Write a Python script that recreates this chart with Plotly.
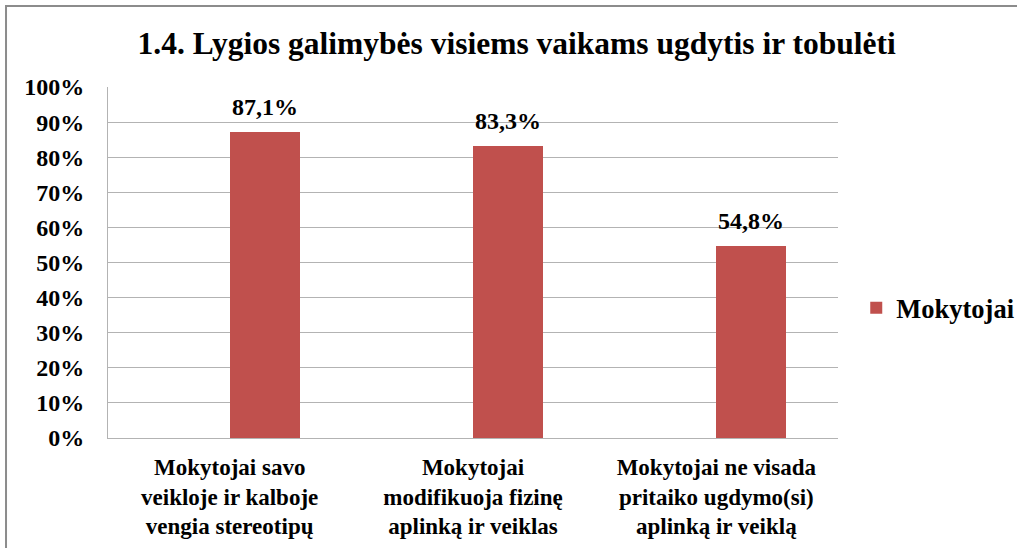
import plotly.graph_objects as go

# ---- Data ----
categories = [
    "Mokytojai savo<br>veikloje ir kalboje<br>vengia stereotipų",
    "Mokytojai<br>modifikuoja fizinę<br>aplinką ir veiklas",
    "Mokytojai ne visada<br>pritaiko ugdymo(si)<br>aplinką ir veiklą",
]
values = [87.1, 83.3, 54.8]
series_name = "Mokytojai"
title_text = "1.4. Lygios galimybės visiems vaikams ugdytis ir tobulėti"

serif = "Tinos, Liberation Serif, Noto Serif, DejaVu Serif, serif"
bar_color = "#C0504D"
grid_color = "#b3b3b3"
bar_width = 0.287

fig = go.Figure()
fig.add_trace(go.Bar(
    x=categories,
    y=values,
    name=series_name,
    marker=dict(color=bar_color, line=dict(width=0)),
    width=bar_width,
    offset=0,
    showlegend=True,
))

# data labels above bars (decimal comma)
for cat, val in zip(categories, values):
    fig.add_annotation(
        x=cat, y=val,
        text=f"{val:.1f}%".replace(".", ","),
        showarrow=False,
        xanchor="center", yanchor="bottom",
        xshift=35, yshift=10,
        font=dict(family=serif, size=24, color="black", weight="bold"),
    )

# ---- Outer chart border (right/bottom edges fall outside the picture) ----
fig.add_shape(
    type="rect", xref="paper", yref="paper",
    x0=-0.1397, x1=1.26, y0=-0.4, y1=1.2308,
    line=dict(color="#8c8c8c", width=2),
    layer="below",
)

fig.update_layout(
    width=1017, height=548,
    margin=dict(l=108, r=179, t=87, b=110, autoexpand=False),
    paper_bgcolor="white",
    plot_bgcolor="white",
    font=dict(family=serif, color="black", weight="bold"),
    title=dict(
        text=title_text,
        x=0.508, xanchor="center",
        y=0.922, yanchor="middle",
        font=dict(family=serif, size=31.5, color="black", weight="bold"),
    ),
    legend=dict(
        x=1.025, xanchor="left",
        y=0.37, yanchor="middle",
        font=dict(family=serif, size=26.5, color="black", weight="bold"),
        bgcolor="rgba(0,0,0,0)",
    ),
    bargap=0,
)

fig.update_yaxes(
    range=[0, 100],
    dtick=10,
    ticksuffix="%",
    showgrid=True,
    gridcolor=grid_color,
    gridwidth=1,
    showline=True,
    linecolor=grid_color,
    linewidth=1,
    zeroline=False,
    ticks="",
    automargin=False,
    ticklabelstandoff=18,
    tickfont=dict(family=serif, size=24, color="black", weight="bold"),
)

fig.update_xaxes(
    showline=True,
    linecolor=grid_color,
    linewidth=1,
    ticks="",
    showgrid=False,
    automargin=False,
    ticklabelstandoff=8,
    tickfont=dict(family=serif, size=23, color="black", weight="bold"),
)

# page body has an 8px default margin; drop it so the figure sits at 0,0
fig.write_html(
    "out.html",
    config={"displayModeBar": False},
    post_script="document.body.style.margin='0';",
)
